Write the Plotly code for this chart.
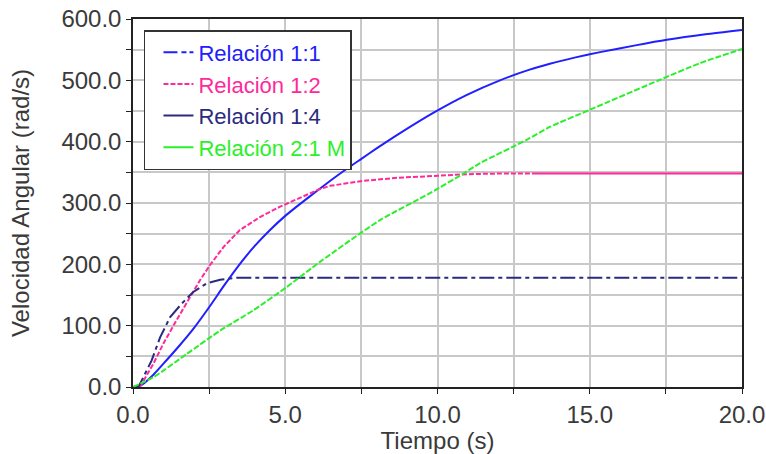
import plotly.graph_objects as go

# Relación 1:1
t_11 = [0, 0.3, 0.67, 1.0, 1.5, 2.0, 2.5, 3.0, 3.5, 4.0, 4.5, 5.0, 5.5, 6.1, 6.5,
        7.0, 7.5, 8.0, 8.77, 9.86, 10.95, 12.05, 13.0, 13.69, 14.5, 15.34, 16.5,
        17.53, 18.8, 20.0]
w_11 = [0, 4, 20, 38, 66, 96, 130, 166, 200, 230, 256, 279, 299, 322, 337,
        355, 372, 389, 414, 447, 476, 500, 517, 527, 537, 546, 557,
        566, 575, 582]

# Relación 1:2 (transitorio y régimen permanente)
t_12 = [0, 0.23, 0.67, 1.0, 1.43, 1.87, 2.2, 2.53, 2.97, 3.51, 4.17, 4.83, 5.48,
        6.1, 6.47, 7.55, 8.66, 9.75, 10.3, 11.0, 12.0, 13.2]
w_12 = [0, 0, 38, 71, 109, 147, 174, 199, 228, 256, 277, 294, 309,
        322, 328, 336, 341, 344, 346, 347, 348, 348]
t_12_ss = [13.2, 20.0]
w_12_ss = [348, 348]

# Relación 1:4
t_14 = [0, 0.2, 0.61, 0.89, 1.22, 1.6, 1.98, 2.42, 2.86, 3.4, 4.0, 20.0]
w_14 = [0, 2, 43, 81, 114, 136, 155, 169, 175, 178, 178, 178]

# Relación 2:1 M
t_21 = [0, 0.67, 1.77, 2.86, 3.95, 5.05, 6.14, 8.11, 9.75, 10.85, 11.4, 12.93,
        13.69, 15.0, 17.31, 18.62, 20.0]
w_21 = [0, 16, 54, 92, 125, 163, 204, 272, 316, 348, 365, 403,
        424, 452, 501, 528, 551]

names = ["Relación 1:1", "Relación 1:2", "Relación 1:4", "Relación 2:1 M"]
colors = ["#2020ff", "#ff2a9a", "#2a2a80", "#2af02a"]
legend_dash = ["14px,4px,5px,3px", "5px,2px", "solid", "solid"]

x_ticks = [0, 5, 10, 15, 20]
y_ticks = [0, 100, 200, 300, 400, 500, 600]

FONT = "Liberation Sans, Arial, sans-serif"
TEXT = "#3a3a3a"

fig = go.Figure()

curves = [
    (t_11, w_11, colors[0], "solid", 0, "spline"),
    (t_12, w_12, colors[1], "5px,2px", 1, "linear"),
    (t_12_ss, w_12_ss, colors[1], "solid", 1, "linear"),
    (t_14, w_14, colors[2], "15px,4px,4px,4px", 2, "linear"),
    (t_21, w_21, colors[3], "6px,2px", 3, "spline"),
]
for t, w, c, d, k, shape in curves:
    fig.add_trace(go.Scatter(
        x=t, y=w, mode="lines",
        line=dict(color=c, width=2, dash=d, shape=shape, smoothing=0.6),
        legendgroup=names[k], showlegend=False, hoverinfo="skip",
    ))

# legend entries
for name, c, d in zip(names, colors, legend_dash):
    fig.add_trace(go.Scatter(
        x=[None], y=[None], mode="lines", legendgroup=name,
        line=dict(color=c, width=2, dash=d),
        name=f"<span style='color:{c}'>{name}</span>",
    ))

axis_common = dict(
    showline=True, linecolor="#222", linewidth=1.5, mirror=True,
    ticks="outside", ticklen=5, tickcolor="#222", tickwidth=1,
    showgrid=True, gridcolor="#c8c8c8", gridwidth=1.5, zeroline=False,
    tickfont=dict(family=FONT, size=24, color=TEXT),
    tickformat=".1f", automargin=False,
)

fig.update_xaxes(
    range=[0, 20], tickvals=x_ticks,
    minor=dict(dtick=2.5, ticks="outside", ticklen=5, tickcolor="#222",
               showgrid=True, gridcolor="#c8c8c8", gridwidth=1.5),
    title=dict(text="Tiempo (s)", font=dict(family=FONT, size=24, color=TEXT), standoff=8),
    **axis_common,
)
fig.update_yaxes(
    range=[0, 600], tickvals=y_ticks,
    minor=dict(dtick=50, ticks="outside", ticklen=5, tickcolor="#222",
               showgrid=True, gridcolor="#c8c8c8", gridwidth=1.5),
    title=dict(text="Velocidad Angular (rad/s)", font=dict(family=FONT, size=24, color=TEXT), standoff=25),
    **axis_common,
)

fig.update_layout(
    width=766, height=454,
    margin=dict(l=133, r=24, t=19, b=67),
    paper_bgcolor="white", plot_bgcolor="white",
    legend=dict(
        x=0.018, y=0.97, xanchor="left", yanchor="top",
        bgcolor="white", bordercolor="#333", borderwidth=1.5,
        font=dict(family=FONT, size=22),
        itemwidth=30, tracegroupgap=0, indentation=13,
    ),
    showlegend=True,
)

fig.write_html("out.html")
